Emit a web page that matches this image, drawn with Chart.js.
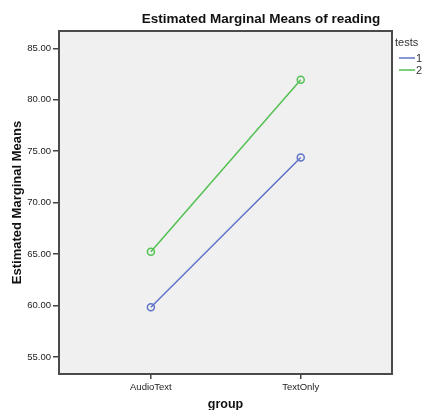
<!DOCTYPE html>
<html>
<head>
<meta charset="utf-8">
<script src="https://cdn.jsdelivr.net/npm/chart.js@4"></script>
<style>
  body { margin: 0; background: #fff; }
  #wrap { width: 424px; height: 410px; }
</style>
</head>
<body>
<div id="wrap"><canvas id="emmChart"></canvas></div>
<script>
// data
const groups = ['AudioText', 'TextOnly'];
const tests = ['1', '2'];
const test1 = [59.83, 74.38];
const test2 = [65.22, 81.95];
const yTicks = [55, 60, 65, 70, 75, 80, 85];
const colors = ['#5f74c8', '#52c152'];

const toPoints = arr => arr.map((v, i) => ({x: i, y: v}));

// plot background + frame, title, legend (SPSS style)
const spssDecor = {
    id: 'spssDecor',
    beforeDatasetsDraw(chart) {
        const {ctx, chartArea: a} = chart;
        ctx.save();
        ctx.fillStyle = '#f0f0f0';
        ctx.fillRect(a.left, a.top, a.right - a.left, a.bottom - a.top);
        ctx.restore();
    },
    afterDraw(chart) {
        const {ctx, chartArea: a} = chart;
        ctx.save();
        ctx.strokeStyle = '#4a4a4a';
        ctx.lineWidth = 2;
        ctx.strokeRect(a.left, a.top, a.right - a.left, a.bottom - a.top);

        ctx.fillStyle = '#111';
        ctx.font = 'bold 13.5px "Liberation Sans", Arial, sans-serif';
        ctx.textAlign = 'center';
        ctx.textBaseline = 'middle';
        ctx.fillText('Estimated Marginal Means of reading', 261, 19);

        // legend
        ctx.textAlign = 'left';
        ctx.font = '11px "Liberation Sans", Arial, sans-serif';
        ctx.fillStyle = '#333';
        ctx.fillText('tests', a.right + 3, 43);
        chart.data.datasets.forEach((ds, i) => {
            const y = 58 + i * 12;
            ctx.strokeStyle = ds.borderColor;
            ctx.lineWidth = 1.5;
            ctx.beginPath();
            ctx.moveTo(a.right + 7, y);
            ctx.lineTo(a.right + 23, y);
            ctx.stroke();
            ctx.fillText(ds.label, a.right + 24, y + 0.5);
        });
        ctx.restore();
    }
};

const ctx = document.getElementById('emmChart').getContext('2d');
const emmChart = new Chart(ctx, {
    type: 'line',
    data: {
        datasets: [test1, test2].map((vals, i) => ({
            label: tests[i],
            data: toPoints(vals),
            borderColor: colors[i],
            backgroundColor: 'rgba(0,0,0,0)',
            borderWidth: 1.5,
            pointRadius: 3.5,
            pointBorderWidth: 1.5,
            pointHoverRadius: 3.5
        }))
    },
    options: {
        responsive: true,
        maintainAspectRatio: false,
        animation: false,
        layout: {
            padding: {top: 31, right: 32, left: 0, bottom: 0}
        },
        plugins: {
            legend: {display: false},
            tooltip: {enabled: false}
        },
        scales: {
            x: {
                type: 'linear',
                min: -0.613,
                max: 1.609,
                afterBuildTicks: s => { s.ticks = groups.map((g, i) => ({value: i})); },
                afterFit: s => { s.height = 36; },
                ticks: {
                    callback: v => groups[v],
                    color: '#222',
                    font: {size: 9.5, family: '"Liberation Sans", Arial, sans-serif'},
                    padding: 3,
                    maxRotation: 0
                },
                grid: {drawOnChartArea: false, drawTicks: true, tickLength: 5, color: '#444', lineWidth: 1.5},
                border: {display: false},
                title: {
                    display: true,
                    text: 'group',
                    color: '#111',
                    font: {size: 12.5, weight: 'bold', family: '"Liberation Sans", Arial, sans-serif', lineHeight: 0.9},
                    padding: {top: 0, bottom: 0}
                }
            },
            y: {
                min: 53.35,
                max: 86.68,
                afterBuildTicks: s => { s.ticks = yTicks.map(v => ({value: v})); },
                afterFit: s => { s.width = 59; },
                ticks: {
                    callback: v => v.toFixed(2),
                    color: '#222',
                    font: {size: 9.5, family: '"Liberation Sans", Arial, sans-serif'},
                    padding: 2
                },
                grid: {drawOnChartArea: false, drawTicks: true, tickLength: 6, color: '#444', lineWidth: 1.5},
                border: {display: false},
                title: {
                    display: true,
                    text: 'Estimated Marginal Means',
                    color: '#111',
                    font: {size: 13, weight: 'bold', family: '"Liberation Sans", Arial, sans-serif', lineHeight: 1},
                    padding: {top: 11, bottom: 0}
                }
            }
        }
    },
    plugins: [spssDecor]
});
</script>
</body>
</html>
